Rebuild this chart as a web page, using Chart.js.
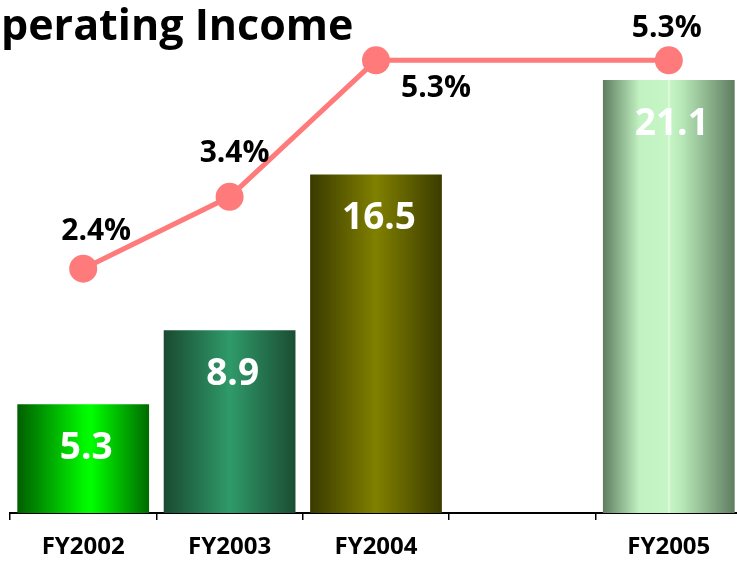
<!DOCTYPE html>
<html>
<head>
<meta charset="utf-8">
<script src="https://cdn.jsdelivr.net/npm/chart.js@4.4.1/dist/chart.umd.min.js"></script>
<style>
  html, body { margin: 0; padding: 0; background: #fff; overflow: hidden; }
  #wrap { width: 752px; height: 561px; }
</style>
</head>
<body>
<div id="wrap"><canvas id="c" width="752" height="561"></canvas></div>
<script>
// ---- data ----
const categories = ["FY2002", "FY2003", "FY2004", "", "FY2005"];
const operatingIncome = [5.3, 8.9, 16.5, null, 21.1];
const operatingMargin = [2.4, 3.4, 5.3, null, 5.3];
const marginLabels = ["2.4%", "3.4%", "5.3%", null, "5.3%"];
const incomeLabels = ["5.3", "8.9", "16.5", null, "21.1"];
const titleText = "Operating Income";

// ---- styles ----
const FONT = "'Open Sans', 'Noto Sans', sans-serif";
const barGradients = [
  [[0, "#005e00"], [0.5, "#00f400"], [0.56, "#00ff00"], [1, "#006a00"]],
  [[0, "#194a30"], [0.5, "#2f9a6a"], [1, "#1b4d33"]],
  [[0, "#3a3a00"], [0.5, "#808000"], [1, "#3c3c00"]],
  null,
  [[0, "#5f7d60"], [0.28, "#c2f2c2"], [0.496, "#c6f6c6"], [0.5, "#ffffff"], [0.508, "#c6f6c6"], [0.6, "#b8e8b8"], [1, "#5f7d60"]]
];
const pctOffsets = [[13, -37], [5, -43], [60, 28], null, [-2, -32]];

function barFill(ctx) {
  const chart = ctx.chart;
  const i = ctx.dataIndex;
  const stops = barGradients[i];
  if (!stops || !chart.chartArea || !chart.scales.x) return "#888";
  const xs = chart.scales.x;
  const cx = xs.getPixelForValue(i);
  const w = (xs.width / categories.length) * 0.9;
  const g = chart.ctx.createLinearGradient(cx - w / 2, 0, cx + w / 2, 0);
  stops.forEach(s => g.addColorStop(s[0], s[1]));
  return g;
}

const labelPlugin = {
  id: "labels",
  afterDatasetsDraw(chart) {
    const ctx = chart.ctx;
    ctx.save();
    // bar value labels
    const barMeta = chart.getDatasetMeta(1);
    ctx.fillStyle = "#ffffff";
    ctx.font = "bold 37px " + FONT;
    ctx.textAlign = "center";
    ctx.textBaseline = "middle";
    barMeta.data.forEach((el, i) => {
      if (!incomeLabels[i]) return;
      ctx.fillText(incomeLabels[i], el.x + 3, el.y + 44);
    });
    // margin labels
    const lineMeta = chart.getDatasetMeta(0);
    ctx.fillStyle = "#000000";
    ctx.font = "bold 30px " + FONT;
    lineMeta.data.forEach((el, i) => {
      if (!marginLabels[i]) return;
      const o = pctOffsets[i];
      ctx.fillText(marginLabels[i], el.x + o[0], el.y + o[1]);
    });
    // title
    ctx.font = "bold 43px " + FONT;
    ctx.textAlign = "left";
    ctx.textBaseline = "alphabetic";
    const ow = ctx.measureText("O").width;
    ctx.fillText(titleText, -ow + 1, 40);
    ctx.restore();
  }
};

new Chart(document.getElementById("c"), {
  data: {
    labels: categories,
    datasets: [
      {
        type: "line",
        data: operatingMargin,
        yAxisID: "y1",
        borderColor: "#ff7b7b",
        backgroundColor: "#ff7b7b",
        borderWidth: 5,
        pointRadius: 14,
        pointHoverRadius: 14,
        pointBorderWidth: 0,
        spanGaps: true,
        tension: 0,
        clip: false,
        order: 0
      },
      {
        type: "bar",
        data: operatingIncome,
        yAxisID: "y",
        backgroundColor: barFill,
        borderWidth: 0,
        barPercentage: 0.9,
        categoryPercentage: 1.0,
        order: 1
      }
    ]
  },
  options: {
    responsive: false,
    animation: false,
    events: [],
    layout: { autoPadding: false, padding: { left: 10, right: 10, top: 0, bottom: 0 } },
    plugins: { legend: { display: false }, tooltip: { enabled: false }, title: { display: false } },
    scales: {
      x: {
        offset: true,
        afterFit: (scale) => { scale.height = 48; },
        grid: { display: true, drawOnChartArea: false, drawTicks: true, tickLength: 7, color: "#000", lineWidth: 1.5, offset: true },
        border: { display: true, color: "#000", width: 2 },
        ticks: { color: "#000", font: { family: FONT, size: 24, weight: "bold" }, padding: 13, maxRotation: 0, autoSkip: false }
      },
      y: {
        display: false,
        min: 0,
        max: 25.0
      },
      y1: {
        display: false,
        min: -1.0,
        max: 6.14
      }
    }
  },
  plugins: [labelPlugin]
});
</script>
</body>
</html>
